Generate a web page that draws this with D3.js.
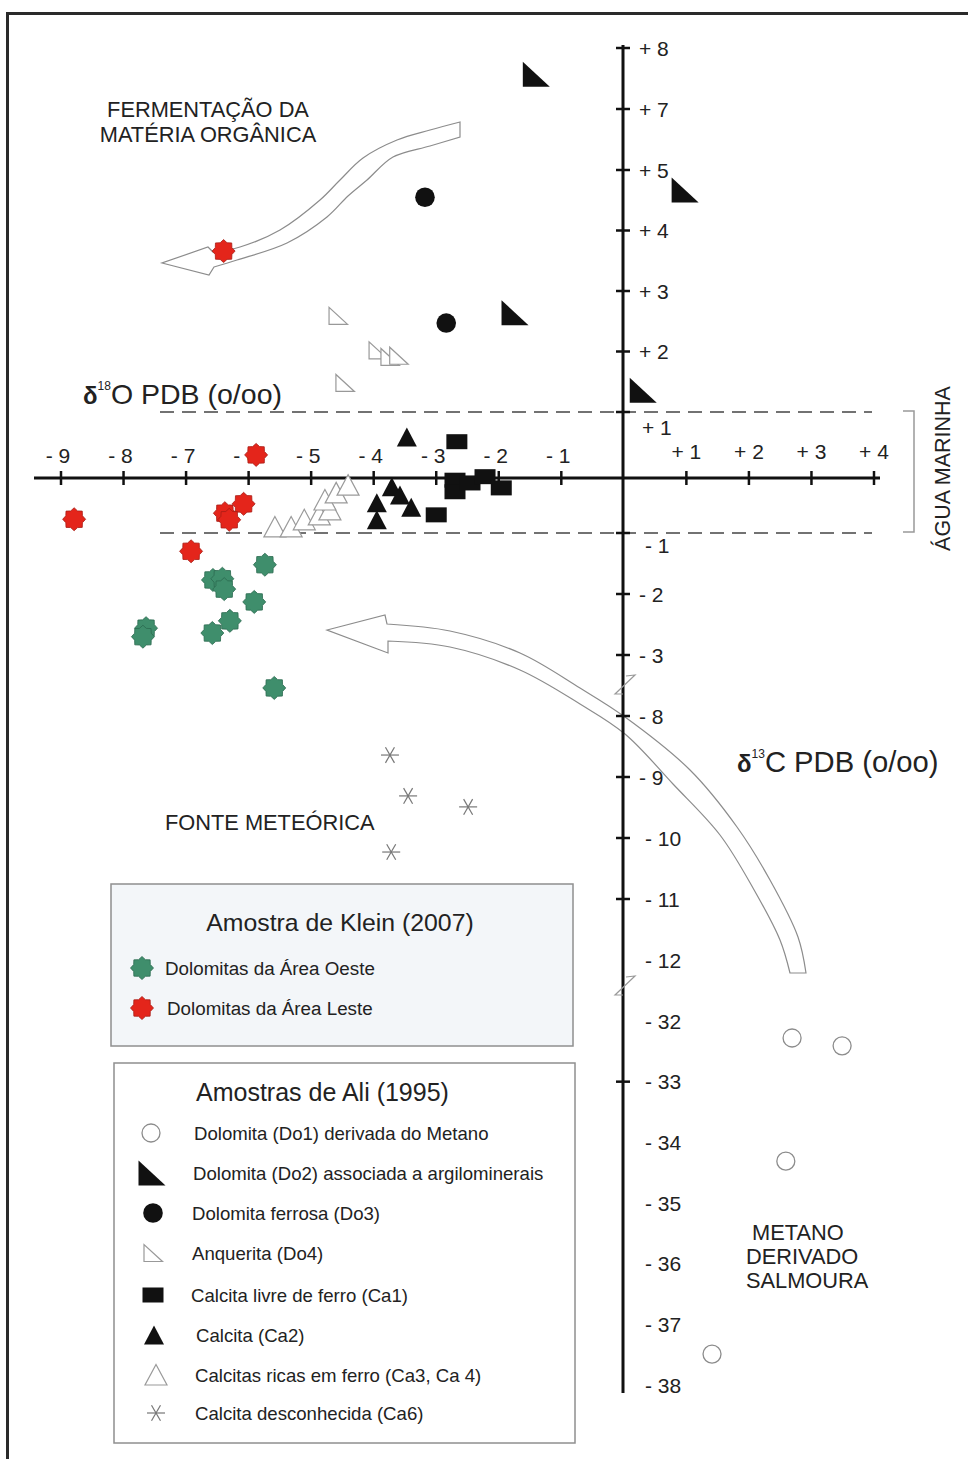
<!DOCTYPE html>
<html><head><meta charset="utf-8">
<script src="https://cdn.jsdelivr.net/npm/d3@7"></script>
<style>
body{margin:0;background:#fff}
svg{display:block}
text{font-family:"Liberation Sans",Arial,Helvetica,sans-serif;fill:#222}
</style>
</head><body>
<svg id="chart" width="968" height="1459"></svg>
<script>
// ---------------- DATA ----------------
const xTickValues = [-9,-8,-7,-6,-5,-4,-3,-2,-1,1,2,3,4];
const yTickValues = [8,7,5,4,3,2,1,-1,-2,-3,-8,-9,-10,-11,-12,-32,-33,-34,-35,-36,-37,-38];
const yTickMarks  = [8,7,5,4,3,2,1,-1,-2,-3,-8,-9,-10,-11,-33];
// broken vertical axis: value break points
const yBreakValues = [-38,-32,-12,-8,-3,-1,0,1,5,7,8];

// points: [δ18O, δ13C]
const do1 = [[2.69,-32.28],[3.49,-32.41],[2.59,-34.31],[1.41,-37.49]];
const do2 = [[-1.40,7.57],[0.98,4.67],[-1.74,2.64],[0.31,1.36]];
const do3 = [[-3.18,4.55],[-2.84,2.47]];
const do4 = [[-4.57,2.59],[-3.93,2.02],[-3.74,1.91],[-3.60,1.93],[-4.46,1.48]];
const ca1 = [[-2.67,0.55],[-2.70,-0.04],[-2.70,-0.25],[-2.46,-0.09],[-2.22,0.02],[-1.96,-0.18],[-3.00,-0.67]];
const ca2 = [[-3.47,0.62],[-3.71,-0.16],[-3.58,-0.31],[-3.40,-0.53],[-3.95,-0.45],[-3.95,-0.76]];
const ca34 = [[-5.58,-0.89],[-5.32,-0.89],[-5.11,-0.76],[-4.87,-0.67],[-4.70,-0.58],[-4.78,-0.40],[-4.60,-0.27],[-4.41,-0.13]];
const ca6 = [[-3.74,-8.64],[-3.45,-9.31],[-2.49,-9.49],[-3.72,-10.23]];
const kleinOeste = [[-5.74,-1.52],[-6.57,-1.77],[-6.42,-1.75],[-6.39,-1.92],[-5.91,-2.13],[-6.30,-2.44],[-6.58,-2.64],[-7.64,-2.56],[-7.69,-2.70],[-5.59,-5.70]];
const kleinLeste = [[-6.40,3.66],[-5.88,0.35],[-6.08,-0.47],[-6.38,-0.64],[-6.31,-0.76],[-8.79,-0.75],[-6.92,-1.30]];

const legendKleinTitle = "Amostra de Klein (2007)";
const legendKleinLabels = ["Dolomitas da Área Oeste","Dolomitas da Área Leste"];
const legendAliTitle = "Amostras de Ali (1995)";
const legendAliLabels = [
  "Dolomita (Do1) derivada do Metano",
  "Dolomita (Do2) associada a argilominerais",
  "Dolomita ferrosa (Do3)",
  "Anquerita (Do4)",
  "Calcita livre de ferro (Ca1)",
  "Calcita (Ca2)",
  "Calcitas ricas em ferro (Ca3, Ca 4)",
  "Calcita desconhecida (Ca6)"
];
const marineBand = [1,-1];

// ---------------- LAYOUT ----------------
const svg = d3.select("#chart");
const AX0 = 623, AY0 = 478;
const x = d3.scaleLinear().domain([-9,4]).range([61,874]);
const y = d3.scaleLinear().domain(yBreakValues)
  .range([1385,1021,960,716,655,533,478,412,170,109,48]);

const green = "#3f8e6c", greenS = "#2b6a4f", red = "#e4251b", redS = "#a81d15";
const grey = "#8c8c8c";

// frame
svg.append("rect").attr("x",7.5).attr("y",13.5).attr("width",1000).attr("height",1500)
  .attr("fill","none").attr("stroke","#2a2a2a").attr("stroke-width",3);

// ---------------- ARROWS (annotation) ----------------
const smooth = d3.line().curve(d3.curveCatmullRom.alpha(0.5));
function bandArrow(upper, head, lower){
  const p1 = smooth(upper);
  const p2 = smooth(lower);
  return p1 + "L" + head.map(p=>p.join(",")).join("L") + "L" + p2.slice(1) + "Z";
}
const fermUpper = [[460,122],[430,130],[397,140],[363,158],[340,180],[320,200],[280,230],[240,247],[213,252]];
const fermLower = [[214,267],[237,260],[287,243],[327,217],[348,196],[367,180],[393,157],[430,146],[460,137]];
svg.append("path").attr("d", bandArrow(fermUpper, [[208,247],[162,263],[209,275]], fermLower))
  .attr("fill","#fff").attr("stroke",grey).attr("stroke-width",1.2);

const metUpper = [[806,973],[798,937],[770,880],[737,827],[690,770],[625,717],[580,688],[520,653],[450,631],[387,624]];
const metLower = [[388,641],[450,647],[520,670],[580,704],[625,734],[673,784],[720,835],[753,888],[780,940],[790,973]];
svg.append("path").attr("d", bandArrow(metUpper, [[385,615],[327,630],[388,653]], metLower))
  .attr("fill","#fff").attr("stroke",grey).attr("stroke-width",1.2);

// ---------------- MARINE WATER BAND ----------------
marineBand.forEach(v=>{
  svg.append("line").attr("x1",160).attr("x2",872).attr("y1",y(v)).attr("y2",y(v))
    .attr("stroke","#444").attr("stroke-width",1.6).attr("stroke-dasharray","14,8");
});
svg.append("path")
  .attr("d",`M903,${y(marineBand[0])-1}H914V${y(marineBand[1])-1}H903`)
  .attr("fill","none").attr("stroke","#999").attr("stroke-width",1.5);
svg.append("text").attr("transform",`translate(950,${(y(marineBand[0])+y(marineBand[1]))/2-4}) rotate(-90)`)
  .attr("text-anchor","middle").style("font-size","21.5px").text("ÁGUA MARINHA");

// ---------------- AXES ----------------
svg.append("line").attr("x1",34).attr("x2",880).attr("y1",AY0).attr("y2",AY0)
  .attr("stroke","#111").attr("stroke-width",3);
svg.append("line").attr("x1",AX0).attr("x2",AX0).attr("y1",45).attr("y2",1393)
  .attr("stroke","#111").attr("stroke-width",3);

const fmt = v => (v<0 ? "- " : "+ ") + Math.abs(v);

svg.selectAll(".xt").data(xTickValues).join("line")
  .attr("x1",d=>x(d)).attr("x2",d=>x(d)).attr("y1",AY0-7).attr("y2",AY0+7)
  .attr("stroke","#111").attr("stroke-width",2.5);
svg.selectAll(".xl").data(xTickValues).join("text")
  .attr("x",d=>x(d)+(d<0?-3:0)).attr("y",d=>d<0?463:459)
  .attr("text-anchor","middle").style("font-size","21px").text(fmt);

svg.selectAll(".yt").data(yTickMarks).join("line")
  .attr("x1",AX0-7).attr("x2",AX0+7).attr("y1",d=>y(d)).attr("y2",d=>y(d))
  .attr("stroke","#111").attr("stroke-width",2.5);
svg.selectAll(".yl").data(yTickValues).join("text")
  .attr("x",d=> d===1?642 : d===-1?645 : (Math.abs(d)>=10?645:639))
  .attr("y",d=> (d===1? y(d)+15 : d===-1? y(d)+12 : y(d)) + 7.5)
  .style("font-size","21px").text(fmt);

// axis breaks
[685,986].forEach(b=>{
  svg.append("path").attr("d",`M626,${b-9}L635,${b-10}L615,${b+9}L623,${b+9}`)
    .attr("fill","none").attr("stroke","#999").attr("stroke-width",1.2);
});

// axis titles
const t18 = svg.append("text").attr("x",83).attr("y",404).style("font-size","28.5px");
t18.append("tspan").style("font-weight","bold").style("font-size","24px").text("δ");
t18.append("tspan").attr("dy",-14).style("font-size","12px").text("18");
t18.append("tspan").attr("dy",14).text("O PDB (o/oo)");
const t13 = svg.append("text").attr("x",737).attr("y",772).style("font-size","29.2px");
t13.append("tspan").style("font-weight","bold").style("font-size","24px").text("δ");
t13.append("tspan").attr("dy",-14).style("font-size","12px").text("13");
t13.append("tspan").attr("dy",14).text("C PDB (o/oo)");

// annotations
function lines(arr, xx, y0, dy, anchor, size){
  arr.forEach((s,i)=>svg.append("text").attr("x",xx[i]??xx[0]).attr("y",y0+i*dy)
    .attr("text-anchor",anchor).style("font-size",size).text(s));
}
lines(["FERMENTAÇÃO DA","MATÉRIA ORGÂNICA"],[208,208],117,24.5,"middle","21.8px");
lines(["FONTE METEÓRICA"],[165],830,0,"start","21.8px");
lines(["METANO","DERIVADO","SALMOURA"],[752,746,746],1240,24,"start","21.8px");

// ---------------- SYMBOLS ----------------
function starPath(r1,r2,n){
  const pts=[];
  for(let i=0;i<2*n;i++){const a=i*Math.PI/n-Math.PI/2;const r=i%2?r2:r1;pts.push([r*Math.cos(a),r*Math.sin(a)]);}
  return "M"+pts.map(p=>p.join(",")).join("L")+"Z";
}
const sym = {
  do1: g=>g.append("circle").attr("r",9).attr("fill","#fff").attr("stroke",grey).attr("stroke-width",1.3),
  do2: g=>g.append("path").attr("d","M-13.5,-12.5L-13.5,12.5L13.5,12.5Z").attr("fill","#111"),
  do3: g=>g.append("circle").attr("r",9.8).attr("fill","#111"),
  do4: g=>g.append("path").attr("d","M-9,-8.5L-9,8.5L9.5,8.5Z").attr("fill","#fff").attr("stroke","#999").attr("stroke-width",1.2),
  ca1: g=>g.append("rect").attr("x",-10.5).attr("y",-7.5).attr("width",21).attr("height",15).attr("fill","#111"),
  ca2: g=>g.append("path").attr("d","M0,-9.5L10,9.5L-10,9.5Z").attr("fill","#111"),
  ca34: g=>g.append("path").attr("d","M0,-10.5L11,10L-11,10Z").attr("fill","#fff").attr("stroke","#9a9a9a").attr("stroke-width",1.2),
  ca6: g=>{[0,60,120].forEach(a=>{const r=9,c=Math.cos(a*Math.PI/180)*r,s=Math.sin(a*Math.PI/180)*r;
      g.append("line").attr("x1",-c).attr("y1",-s).attr("x2",c).attr("y2",s).attr("stroke","#777").attr("stroke-width",1.2);});},
  oeste: g=>g.append("path").attr("d",starPath(11.5,9,8)).attr("fill",green).attr("stroke",greenS).attr("stroke-width",0.8),
  leste: g=>g.append("path").attr("d",starPath(11.5,9,8)).attr("fill",red).attr("stroke",redS).attr("stroke-width",0.8)
};

function plot(data, key){
  const g = svg.append("g");
  data.forEach(d=>{
    const m = g.append("g").attr("transform",`translate(${x(d[0])},${y(d[1])})`);
    sym[key](m);
  });
}
plot(do1,"do1"); plot(do4,"do4"); plot(ca34,"ca34"); plot(ca6,"ca6");
plot(do2,"do2"); plot(do3,"do3"); plot(ca1,"ca1"); plot(ca2,"ca2");
plot(kleinOeste,"oeste"); plot(kleinLeste,"leste");

// ---------------- LEGENDS ----------------
svg.append("rect").attr("x",111).attr("y",884).attr("width",462).attr("height",162)
  .attr("fill","#f3f6f9").attr("stroke","#8f8f8f").attr("stroke-width",1.5);
svg.append("text").attr("x",340).attr("y",931).attr("text-anchor","middle").style("font-size","24.8px").text(legendKleinTitle);
const kleinKeys = ["oeste","leste"];
legendKleinLabels.forEach((s,i)=>{
  const cy = 968 + i*40;
  sym[kleinKeys[i]](svg.append("g").attr("transform",`translate(142,${cy})`));
  svg.append("text").attr("x",165+i*2).attr("y",cy+6.5).style("font-size","18.8px").text(s);
});

svg.append("rect").attr("x",114).attr("y",1063).attr("width",461).attr("height",380)
  .attr("fill","#fff").attr("stroke","#8f8f8f").attr("stroke-width",1.5);
svg.append("text").attr("x",196).attr("y",1101).style("font-size","25px").text(legendAliTitle);
const aliKeys = ["do1","do2","do3","do4","ca1","ca2","ca34","ca6"];
const aliY = [1133,1173,1213,1253,1295,1335,1375,1413];
const aliSX = [151,152,153,153,153,154,156,156];
const aliTX = [194,193,192,192,191,196,195,195];
legendAliLabels.forEach((s,i)=>{
  sym[aliKeys[i]](svg.append("g").attr("transform",`translate(${aliSX[i]},${aliY[i]})`));
  svg.append("text").attr("x",aliTX[i]).attr("y",aliY[i]+6.5).style("font-size","18.6px").text(s);
});
</script>
</body></html>
